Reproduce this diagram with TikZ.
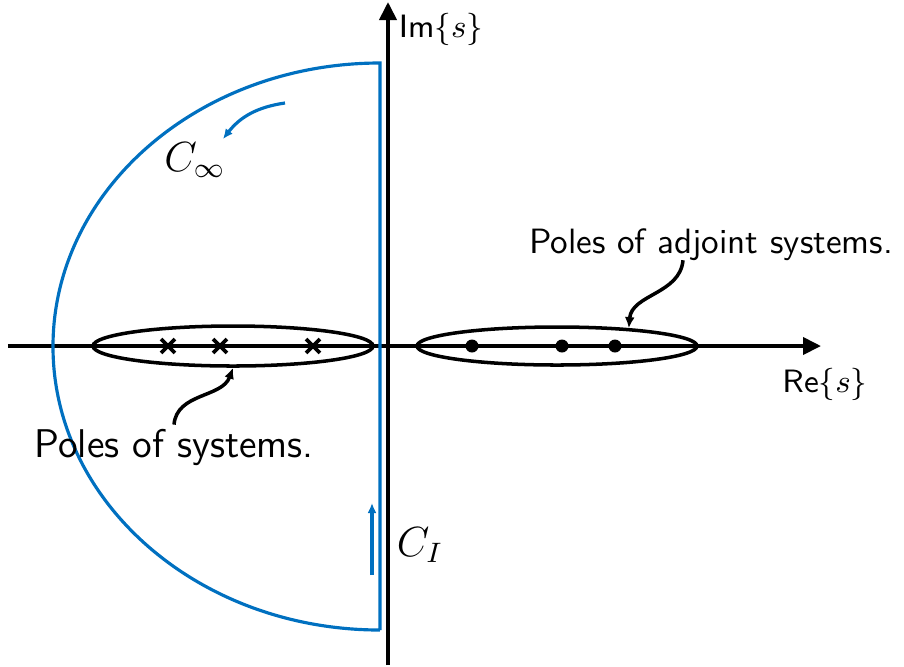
\RequirePackage{fix-cm}
\documentclass[tikz,border=0pt]{standalone}
\usepackage{fontspec}
\usepackage{tikz}
\usetikzlibrary{shapes.geometric, shapes.misc, arrows.meta, positioning, calc}
\definecolor{contourblue}{HTML}{0070C0}

\begin{document}
\begin{tikzpicture}[
  axisarrow/.style={line width=1.1pt, -{Triangle[length=0.18cm,width=0.17cm]}},
  contour/.style={draw=contourblue, line width=0.9pt},
  dirarrow/.style={contourblue, line width=0.9pt, -{Latex[length=0.1cm,width=0.09cm]}},
  pointer/.style={line width=1pt, -{Latex[length=0.11cm,width=0.10cm]}},
  poleset/.style={ellipse, draw, line width=1pt, minimum width=2.80cm, minimum height=0.40cm, inner sep=0pt},
  polex/.style={cross out, draw, line width=1.1pt, minimum size=0.10cm, inner sep=0pt},
  poledot/.style={circle, fill, minimum size=0.13cm, inner sep=0pt},
  axislbl/.style={font=\fontsize{9.2}{11}\selectfont\sffamily},
  contlbl/.style={font=\fontsize{12}{14}\selectfont},
  poleslbl/.style={font=\fontsize{#1}{14}\selectfont\sffamily, inner sep=1pt},
]
  \useasboundingbox (-3.88,-3.20) rectangle (5.16,3.46);

  % Axes
  \coordinate (o) at (0,0);
  \coordinate (rel) at (-3.80,0);
  \coordinate (rer) at (4.33,0);
  \coordinate (imb) at (0,-3.19);
  \coordinate (imt) at (0,3.44);
  \draw[axisarrow] (rel) -- (rer);
  \draw[axisarrow] (imb) -- (imt);
  \node[axislbl] (relbl) at (4.37,-0.38) {Re$\{s\}$};
  \node[axislbl] (imlbl) at (0.53,3.17) {Im$\{s\}$};

  % Contour
  \draw[contour] (-0.08,-2.84) -- (-0.08,2.83)
    arc[start angle=90, end angle=270, x radius=3.27cm, y radius=2.835cm];
  \coordinate (cinfa) at (-1.03,2.43);
  \coordinate (cinfb) at (-1.65,2.07);
  \draw[dirarrow] (cinfa) to[bend right=22] (cinfb);
  \node[contlbl] (cinf) at (-1.93,1.86) {$C_\infty$};
  \coordinate (cia) at (-0.16,-2.29);
  \coordinate (cib) at (-0.16,-1.57);
  \draw[dirarrow] (cia) -- (cib);
  \node[contlbl] (ci) at (0.32,-1.99) {$C_I$};

  % Poles of systems
  \node[poleset] (ellsys) at (-1.55,0) {};
  \node[polex] (x1) at (-2.20,0) {};
  \node[polex] (x2) at (-1.68,0) {};
  \node[polex] (x3) at (-0.75,0) {};
  \node[poleslbl=11.4] (syslbl) at (-2.14,-1.01) {Poles of systems.};
  \draw[pointer] (syslbl.north) to[out=85, in=-110] (ellsys.south);

  % Poles of adjoint systems
  \node[poleset, minimum height=0.38cm] (elladj) at (1.69,0) {};
  \node[poledot] (d1) at (0.84,0) {};
  \node[poledot] (d2) at (1.74,0) {};
  \node[poledot] (d3) at (2.27,0) {};
  \node[poleslbl=10] (adjlbl) at (3.23,1.01) {Poles of adjoint systems.};
  \draw[pointer] ([xshift=-0.28cm,yshift=0.05cm]adjlbl.south) to[out=-95, in=85] (elladj.14);
\end{tikzpicture}
\end{document}
